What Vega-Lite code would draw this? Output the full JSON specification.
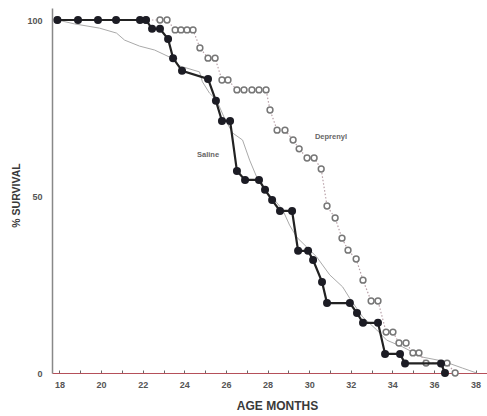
{
  "$schema": "https://vega.github.io/schema/vega-lite/v6.json",
  "autosize": "none",
  "width": 435,
  "height": 365,
  "padding": {"left": 52, "top": 8, "right": 0, "bottom": 43},
  "background": "white",
  "config": {"view": {"stroke": null}, "font": "Liberation Sans"},
  "datasets": {
    "control": [
      {"age": 17.9, "survival": 100}, {"age": 18.89, "survival": 100}, {"age": 19.85, "survival": 100},
      {"age": 20.72, "survival": 100}, {"age": 21.87, "survival": 100}, {"age": 22.16, "survival": 100},
      {"age": 22.45, "survival": 97.5}, {"age": 22.83, "survival": 97.5}, {"age": 23.22, "survival": 94.6},
      {"age": 23.46, "survival": 89.2}, {"age": 23.89, "survival": 85.6}, {"age": 25.14, "survival": 83.3},
      {"age": 25.52, "survival": 77.1}, {"age": 25.81, "survival": 71.4}, {"age": 26.2, "survival": 71.4},
      {"age": 26.53, "survival": 57.2}, {"age": 26.92, "survival": 54.7}, {"age": 27.59, "survival": 54.7},
      {"age": 27.88, "survival": 51.9}, {"age": 28.22, "survival": 49.0}, {"age": 28.6, "survival": 45.9},
      {"age": 29.18, "survival": 45.9}, {"age": 29.47, "survival": 34.6}, {"age": 29.95, "survival": 34.6},
      {"age": 30.19, "survival": 32.0}, {"age": 30.62, "survival": 25.8}, {"age": 30.86, "survival": 19.8},
      {"age": 31.96, "survival": 19.8}, {"age": 32.3, "survival": 17.0}, {"age": 32.59, "survival": 14.2},
      {"age": 33.31, "survival": 14.2}, {"age": 33.65, "survival": 5.4}, {"age": 34.37, "survival": 5.4},
      {"age": 34.61, "survival": 2.7}, {"age": 36.34, "survival": 2.7}, {"age": 36.53, "survival": 0}
    ],
    "deprenyl": [
      {"age": 17.9, "survival": 100}, {"age": 22.16, "survival": 100},
      {"age": 22.83, "survival": 100}, {"age": 23.17, "survival": 100}, {"age": 23.56, "survival": 97.2},
      {"age": 23.84, "survival": 97.2}, {"age": 24.13, "survival": 97.2}, {"age": 24.42, "survival": 97.2},
      {"age": 24.75, "survival": 92.1}, {"age": 25.14, "survival": 89.2}, {"age": 25.48, "survival": 89.2},
      {"age": 25.81, "survival": 83.0}, {"age": 26.1, "survival": 83.0}, {"age": 26.53, "survival": 80.2},
      {"age": 26.87, "survival": 80.2}, {"age": 27.25, "survival": 80.2}, {"age": 27.59, "survival": 80.2},
      {"age": 27.93, "survival": 80.2}, {"age": 28.12, "survival": 74.5}, {"age": 28.46, "survival": 68.8},
      {"age": 28.84, "survival": 68.8}, {"age": 29.23, "survival": 66.0}, {"age": 29.52, "survival": 63.5},
      {"age": 29.9, "survival": 60.9}, {"age": 30.24, "survival": 60.9}, {"age": 30.58, "survival": 57.8},
      {"age": 30.86, "survival": 47.3}, {"age": 31.25, "survival": 43.9}, {"age": 31.58, "survival": 38.2},
      {"age": 31.87, "survival": 34.8}, {"age": 32.26, "survival": 32.3}, {"age": 32.59, "survival": 26.3},
      {"age": 32.98, "survival": 20.4}, {"age": 33.31, "survival": 20.4}, {"age": 33.7, "survival": 11.6},
      {"age": 34.03, "survival": 11.6}, {"age": 34.32, "survival": 8.5}, {"age": 34.66, "survival": 8.5},
      {"age": 34.99, "survival": 5.7}, {"age": 35.28, "survival": 5.7}, {"age": 35.62, "survival": 2.8},
      {"age": 36.63, "survival": 2.8}, {"age": 37.02, "survival": 0}
    ],
    "saline": [
      {"age": 17.9, "survival": 100}, {"age": 18.72, "survival": 98.9}, {"age": 19.92, "survival": 97.7},
      {"age": 20.74, "survival": 96.3}, {"age": 21.13, "survival": 94.3}, {"age": 21.85, "survival": 92.6},
      {"age": 22.57, "survival": 91.5}, {"age": 23.29, "survival": 89.5}, {"age": 23.77, "survival": 87.0},
      {"age": 24.73, "survival": 85.3}, {"age": 24.87, "survival": 82.5}, {"age": 25.21, "survival": 79.3},
      {"age": 25.55, "survival": 77.3}, {"age": 25.93, "survival": 72.2}, {"age": 26.32, "survival": 68.0},
      {"age": 26.8, "survival": 66.0}, {"age": 27.14, "survival": 60.3}, {"age": 27.48, "survival": 55.5},
      {"age": 27.86, "survival": 51.8}, {"age": 28.34, "survival": 49.0}, {"age": 28.73, "survival": 46.2},
      {"age": 29.06, "survival": 41.9}, {"age": 29.4, "survival": 38.5}, {"age": 29.88, "survival": 35.7},
      {"age": 30.36, "survival": 32.9}, {"age": 30.99, "survival": 27.8}, {"age": 31.61, "survival": 24.4},
      {"age": 31.95, "survival": 21.2}, {"age": 32.57, "survival": 15.9}, {"age": 33.25, "survival": 12.2},
      {"age": 33.73, "survival": 9.3}, {"age": 34.49, "survival": 7.4}, {"age": 35.45, "survival": 4.5},
      {"age": 36.41, "survival": 3.4}, {"age": 37.37, "survival": 1.4}, {"age": 38.05, "survival": 0}
    ],
    "labels": [
      {"age": 25.14, "survival": 61.8, "label": "Saline"},
      {"age": 31.05, "survival": 66.9, "label": "Deprenyl"}
    ]
  },
  "encoding": {
    "x": {
      "field": "age", "type": "quantitative",
      "scale": {"domain": [17.64, 38.55], "nice": false, "zero": false},
      "axis": {
        "title": "AGE MONTHS",
        "values": [18,19,20,21,22,23,24,25,26,27,28,29,30,31,32,33,34,35,36,37,38],
        "labelExpr": "datum.value % 2 == 0 ? datum.label : ''",
        "grid": false,
        "domainColor": "#b5505a", "domainWidth": 1.2,
        "tickColor": "#666", "tickSize": -3, "tickWidth": 1,
        "labelFont": "Liberation Sans", "labelFontWeight": "bold", "labelFontSize": 9, "labelColor": "#555",
        "labelPadding": 10,
        "titleFont": "Liberation Sans", "titleFontWeight": "bold", "titleFontSize": 12, "titleColor": "#3a3a3a",
        "titleX": 225, "titleY": 27
      }
    },
    "y": {
      "field": "survival", "type": "quantitative",
      "scale": {"domain": [0, 103.4], "nice": false},
      "axis": {
        "title": "% SURVIVAL",
        "values": [0, 50, 100],
        "grid": false,
        "ticks": false,
        "domainColor": "#888", "domainWidth": 1.5,
        "labelFont": "Liberation Sans", "labelFontWeight": "bold", "labelFontSize": 9, "labelColor": "#555",
        "labelPadding": 10,
        "titleFont": "Liberation Sans", "titleFontWeight": "bold", "titleFontSize": 10.5, "titleColor": "#3a3a3a",
        "titleX": -31, "titleY": 187
      }
    }
  },
  "layer": [
    {"data": {"name": "saline"}, "mark": {"type": "line", "color": "#aaaaaa", "strokeWidth": 1}},
    {"data": {"name": "deprenyl"}, "mark": {"type": "line", "color": "#b8a0a8", "strokeWidth": 1.2, "strokeDash": [1.5, 2]}},
    {"data": {"name": "deprenyl"}, "mark": {"type": "point", "shape": "circle", "filled": false, "fill": "white", "stroke": "#777", "strokeWidth": 1.5, "size": 34, "opacity": 1}},
    {"data": {"name": "control"}, "mark": {"type": "line", "color": "#222", "strokeWidth": 2.2}},
    {"data": {"name": "control"}, "mark": {"type": "point", "shape": "circle", "filled": true, "color": "#1c1c24", "size": 64, "opacity": 1}},
    {"data": {"name": "labels"}, "mark": {"type": "text", "font": "Liberation Sans", "fontWeight": "bold", "fontSize": 7.5, "color": "#666"}, "encoding": {"text": {"field": "label"}}}
  ]
}
